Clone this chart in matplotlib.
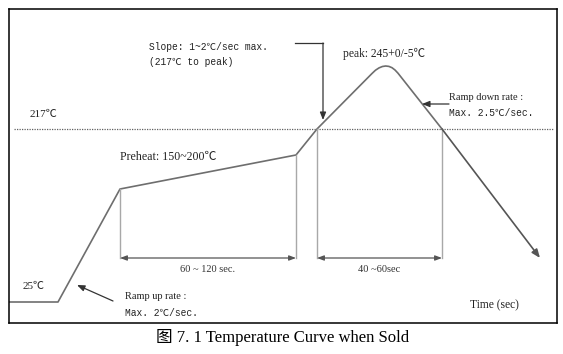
import matplotlib
matplotlib.use("Agg")
import matplotlib.pyplot as plt

# schematic reflow profile, in drawing units (x right, y down like the original sketch)
profile_x = [9, 58, 120, 296, 317, 372, 375.5, 379, 382.4, 385.7, 388.9, 392, 395, 398, 442, 540]
profile_y = [302, 302, 189, 155, 129, 73.5, 70.2, 67.9, 66.5, 66.0, 66.4, 67.7, 70.0, 73.2, 129, 258]

liquidus_y = 129
liquidus_label = "217℃"

# timing brackets: (x start, x end, label)
span_starts = [120, 317]
span_ends = [296, 442]
span_tops = [[189, 155], [129, 129]]
span_labels = ["60 ~ 120 sec.", "40 ~60sec"]
span_y = 258

serif = ["Liberation Serif", "Noto Sans CJK SC"]
mono = ["Liberation Mono", "DejaVu Sans Mono", "Noto Sans CJK SC"]

fig = plt.figure(figsize=(5.63, 3.54), dpi=100)
ax = fig.add_axes([9 / 563, 31 / 354, 548 / 563, 314 / 354])
ax.set_xlim(9, 557)
ax.set_ylim(323, 9)
ax.set_xticks([])
ax.set_yticks([])
for s in ax.spines.values():
    s.set_linewidth(1.1)
    s.set_color("black")

curve_col = "#6e6e6e"
guide_col = "#a8a8a8"

# 217 line
ax.plot([14, 553], [liquidus_y, liquidus_y], color="#606060", lw=0.9, ls=(0, (1, 1)))

# profile (last segment ends in arrow)
ax.plot(profile_x[:-1], profile_y[:-1], color=curve_col, lw=1.2, solid_joinstyle="round")
ax.annotate("", xy=(profile_x[-1], profile_y[-1]), xytext=(profile_x[-2], profile_y[-2]),
            arrowprops=dict(arrowstyle="-|>,head_length=0.5,head_width=0.2", color="#555555", lw=1.2,
                            shrinkA=0, shrinkB=0))

# vertical guides and time spans
for x0, x1, tops, lab in zip(span_starts, span_ends, span_tops, span_labels):
    ax.plot([x0, x0], [tops[0], span_y], color=guide_col, lw=1.0)
    ax.plot([x1, x1], [tops[1], span_y], color=guide_col, lw=1.0)
    ax.annotate("", xy=(x1, span_y), xytext=(x0, span_y),
                arrowprops=dict(arrowstyle="<|-|>,head_length=0.4,head_width=0.15", color="#555555",
                                lw=0.9, shrinkA=0, shrinkB=0))
    ax.text((x0 + x1) / 2, span_y + 12, lab, ha="center", va="center",
            fontsize=7.5, family=serif, color="#333333")

# labels
ax.text(30, 115, liquidus_label, fontsize=8, family=serif, va="center", color="#222222")
ax.text(23, 287, "25℃", fontsize=8, family=serif, va="center", color="#222222")
ax.text(120, 157, "Preheat: 150~200℃", fontsize=8.6, family=serif, va="center", color="#222222")
ax.text(343, 54, "peak: 245+0/-5℃", fontsize=8.3, family=serif, va="center", color="#222222")
ax.text(470, 305, "Time (sec)", fontsize=8.3, family=serif, va="center", color="#222222")

ax.text(149, 47, "Slope: 1~2℃/sec max.", fontsize=6.9, family=mono, va="center", color="#222222")
ax.text(149, 62, "(217℃ to peak)", fontsize=6.9, family=mono, va="center", color="#222222")
ax.text(125, 297, "Ramp up rate :", fontsize=7.5, family=serif, va="center", color="#222222")
ax.text(125, 313, "Max. 2℃/sec.", fontsize=6.9, family=mono, va="center", color="#222222")
ax.text(449, 98, "Ramp down rate :", fontsize=7.5, family=serif, va="center", color="#222222")
ax.text(449, 113, "Max. 2.5℃/sec.", fontsize=6.9, family=mono, va="center", color="#222222")

# pointer arrows
arr = dict(arrowstyle="-|>,head_length=0.45,head_width=0.18", color="#333333", lw=0.9, shrinkA=0, shrinkB=0)
ax.plot([295, 323], [43, 43], color="#333333", lw=0.9)
ax.annotate("", xy=(323, 120), xytext=(323, 43), arrowprops=arr)
ax.annotate("", xy=(77, 285), xytext=(113, 301), arrowprops=arr)
ax.annotate("", xy=(422, 104), xytext=(449, 104), arrowprops=arr)

fig.text(283 / 563, 1 - 338 / 354, "图 7. 1 Temperature Curve when Sold", ha="center", va="center",
         fontsize=12, family=serif, color="black")

fig.savefig("out.png", dpi=100)
